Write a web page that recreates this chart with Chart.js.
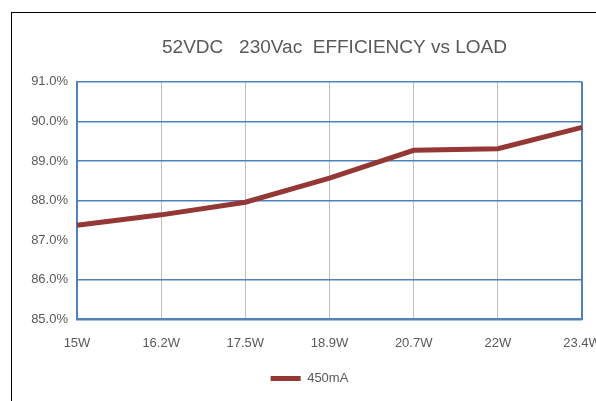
<!DOCTYPE html>
<html>
<head>
<meta charset="utf-8">
<script src="https://cdn.jsdelivr.net/npm/chart.js@4.4.1/dist/chart.umd.min.js"></script>
<style>
  html, body { margin: 0; padding: 0; background: #fff; overflow: hidden; }
  #frame { position: absolute; left: 11px; top: 12px; width: 700px; height: 500px; border: 1px solid #000; }
  #wrap { position: absolute; left: 0; top: 0; width: 620px; height: 401px; }
</style>
</head>
<body>
<div id="frame"></div>
<div id="wrap"><canvas id="effChart"></canvas></div>
<script>
// Load points (x axis) and measured efficiency (%)
const loads = ['15W', '16.2W', '17.5W', '18.9W', '20.7W', '22W', '23.4W'];
const eff450 = [87.38, 87.64, 87.96, 88.57, 89.27, 89.31, 89.85];
const yTicks = [85, 86, 87, 88, 89, 90, 91];

const blue = '#4F81BD';
const gray = '#BFBFBF';
const textGray = '#595959';

// shift title / legend sideways, the source picture is not centred on the plot
const nudge = {
  id: 'nudge',
  afterLayout(chart) {
    const t = chart.titleBlock;
    t.left += 35; t.right += 35;
    const l = chart.legend;
    l.left += 10; l.right += 10;
  }
};

document.addEventListener('DOMContentLoaded', function() {
  const ctx = document.getElementById('effChart').getContext('2d');
  new Chart(ctx, {
    type: 'line',
    data: {
      labels: loads,
      datasets: [{
        label: '450mA',
        data: eff450,
        borderColor: '#953735',
        backgroundColor: '#953735',
        borderWidth: 5,
        pointRadius: 0,
        tension: 0
      }]
    },
    options: {
      responsive: true,
      maintainAspectRatio: false,
      animation: false,
      layout: { padding: { left: 17, right: 38, top: 0, bottom: 6 } },
      plugins: {
        title: {
          display: true,
          text: '52VDC   230Vac  EFFICIENCY vs LOAD',
          color: textGray,
          font: { family: 'Liberation Sans', size: 19, weight: 'normal' },
          padding: { top: 36, bottom: 23 }
        },
        legend: {
          position: 'bottom',
          labels: {
            color: textGray,
            font: { family: 'Liberation Sans', size: 13 },
            usePointStyle: true,
            pointStyle: 'line',
            pointStyleWidth: 30,
            padding: 5
          }
        },
        tooltip: { enabled: false }
      },
      scales: {
        x: {
          grid: {
            color: c => c.index === loads.length - 1 ? blue : gray,
            lineWidth: c => c.index === loads.length - 1 ? 2 : 1,
            drawTicks: false
          },
          border: { color: blue, width: 2 },
          ticks: {
            color: textGray,
            font: { family: 'Liberation Sans', size: 13 },
            padding: 16,
            maxRotation: 0,
            autoSkip: false
          }
        },
        y: {
          min: yTicks[0],
          max: yTicks[yTicks.length - 1],
          afterBuildTicks: s => { s.ticks = yTicks.map(v => ({ value: v })); },
          afterFit: s => { s.width = 60; },
          grid: {
            color: c => c.tick && c.tick.value === 87 ? 'rgba(0,0,0,0)' : blue,
            lineWidth: 1.6,
            drawTicks: false
          },
          border: { color: blue, width: 2 },
          ticks: {
            color: textGray,
            font: { family: 'Liberation Sans', size: 13 },
            padding: 9,
            callback: v => v.toFixed(1) + '%'
          }
        }
      }
    },
    plugins: [nudge]
  });
});
</script>
</body>
</html>
